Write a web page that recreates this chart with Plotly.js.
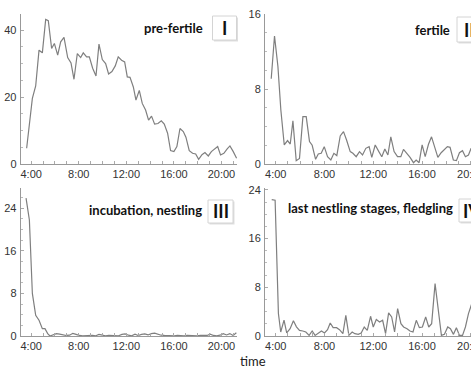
<!DOCTYPE html>
<html>
<head>
<meta charset="utf-8">
<script src="https://cdn.plot.ly/plotly-3.0.1.min.js"></script>
<style>
html,body{margin:0;padding:0;background:#fff;overflow:hidden;width:471px;height:369px;}
#chart{width:490px;height:369px;}
</style>
</head>
<body>
<div id="chart"></div>
<script>
// ---- data (time in hours) ----
const tickHours = [4, 8, 12, 16, 20];

const timesI = [3.62,4.10,4.38,4.66,4.94,5.22,5.44,5.72,5.95,6.23,6.48,6.76,7.07,7.35,7.60,7.88,8.16,8.38,8.66,8.89,9.17,9.45,9.70,9.98,10.26,10.51,10.79,11.07,11.32,11.60,11.86,12.08,12.31,12.59,12.81,13.09,13.34,13.62,13.87,14.12,14.38,14.66,14.94,15.19,15.47,15.72,16.00,16.25,16.51,16.79,17.01,17.29,17.57,17.83,18.08,18.36,18.61,18.89,19.15,19.43,19.68,19.92,20.20,20.48,20.71,20.99,21.27];
const valuesI = [4.7,19.6,23.3,34.0,33.2,43.2,42.8,34.5,36.0,32.5,36.5,37.8,31.8,30.2,25.3,33.0,31.8,33.2,32.0,32.0,28.6,26.3,35.8,31.2,30.0,26.9,27.6,29.3,32.0,31.0,30.5,26.0,25.9,23.0,19.1,22.0,18.1,16.1,13.1,14.3,11.9,12.1,12.9,11.9,9.2,4.0,3.7,5.2,10.6,9.7,8.0,4.0,3.2,3.0,1.4,2.8,3.4,2.4,3.7,4.5,5.2,2.7,3.2,4.5,5.4,3.7,1.7];

const timesII = [3.63,3.90,4.18,4.42,4.70,4.97,5.19,5.41,5.68,5.95,6.23,6.50,6.77,6.99,7.27,7.49,7.73,7.98,8.25,8.52,8.77,9.01,9.29,9.56,9.81,10.11,10.33,10.60,10.87,11.12,11.39,11.66,11.88,12.16,12.46,12.70,12.95,13.20,13.44,13.71,13.99,14.26,14.48,14.75,15.02,15.30,15.52,15.76,16.01,16.26,16.53,16.78,17.05,17.30,17.57,17.83,18.08,18.30,18.57,18.82,19.07,19.32,19.56,19.81,20.03,20.30];
const valuesII = [9.1,13.65,10.4,5.76,2.03,2.5,2.13,4.6,0.36,0.6,5.05,5.05,2.4,2.0,0.5,1.07,1.14,1.85,0.78,0.43,1.14,0.9,3.0,3.45,2.56,1.32,1.14,0.78,1.32,0.96,1.67,1.85,0.71,2.03,1.32,0.78,1.6,0.96,2.9,1.32,0.78,0.78,1.56,1.14,0.71,0.14,0.43,0.14,2.03,0.78,2.1,2.9,1.67,0.71,1.2,1.56,1.85,1.78,0.43,0.36,1.2,1.42,0.78,0.96,1.67,1.1];

const timesIII = [3.57,3.85,4.10,4.38,4.66,4.94,5.16,5.39,5.58,5.85,6.12,6.40,6.68,6.95,7.23,7.50,7.78,8.05,8.33,8.60,8.88,9.15,9.43,9.70,9.98,10.25,10.53,10.80,11.08,11.35,11.63,11.90,12.18,12.45,12.73,13.00,13.28,13.55,13.83,14.10,14.38,14.65,14.93,15.20,15.48,15.75,16.03,16.30,16.58,16.85,17.13,17.40,17.68,17.95,18.23,18.50,18.78,19.05,19.33,19.60,19.88,20.15,20.43,20.70,20.98,21.25];
const valuesIII = [25.9,21.8,8.0,3.9,2.95,1.38,1.38,0.44,0.0,0.2,0.45,0.35,0.25,0.1,0.15,0.5,0.3,0.1,0.05,0.1,0.05,0.1,0.05,0.3,0.15,0.05,0.1,0.05,0.1,0.05,0.3,0.4,0.15,0.05,0.35,0.1,0.3,0.4,0.2,0.45,0.55,0.3,0.15,0.1,0.05,0.1,0.05,0.1,0.05,0.05,0.1,0.05,0.1,0.05,0.1,0.05,0.1,0.35,0.1,0.05,0.15,0.45,0.2,0.45,0.1,0.6];

const timesIV = [3.67,3.95,4.22,4.41,4.68,4.90,5.18,5.45,5.70,5.95,6.22,6.47,6.74,6.99,7.23,7.51,7.75,8.00,8.25,8.47,8.71,8.99,9.23,9.51,9.75,10.00,10.27,10.49,10.77,11.01,11.26,11.51,11.78,12.00,12.25,12.52,12.77,13.01,13.26,13.51,13.75,14.00,14.27,14.49,14.77,15.01,15.26,15.53,15.78,16.03,16.30,16.55,16.79,17.07,17.32,17.59,17.84,18.11,18.33,18.58,18.82,19.07,19.32,19.56,19.81,20.08,20.30];
const valuesIV = [22.4,22.3,3.7,0.66,2.6,0.5,1.2,2.5,1.5,0.93,0.82,0.66,0.1,0.82,0.1,0.5,0.82,0.5,1.04,2.14,1.37,1.37,1.04,0.38,3.4,0.1,0.66,0.38,0.27,0.5,1.48,0.93,3.24,1.48,2.7,2.3,2.58,0.38,3.8,3.13,0.66,4.5,2.03,1.48,1.2,0.82,0.66,2.58,1.37,1.48,3.13,1.48,2.03,8.6,4.8,0.1,0.27,1.48,1.2,0.27,1.37,0.1,0.1,1.48,3.68,5.3,3.0];

const stageLabels = ['pre-fertile', 'fertile', 'incubation, nestling', 'last nestling stages, fledgling'];
const stageNumerals = ['I', 'II', 'III', 'IV'];
const xTitle = 'time';

// ---- layout helpers ----
const W = 490, H = 369;
const fx = p => p / W;
const fy = p => 1 - p / H;

const lineStyle = {color: '#7f7f7f', width: 1.2};
const traces = [
  {x: timesI, y: valuesI, xaxis: 'x', yaxis: 'y'},
  {x: timesII, y: valuesII, xaxis: 'x2', yaxis: 'y2'},
  {x: timesIII, y: valuesIII, xaxis: 'x3', yaxis: 'y3'},
  {x: timesIV, y: valuesIV, xaxis: 'x4', yaxis: 'y4'}
].map(t => Object.assign(t, {type: 'scatter', mode: 'lines', line: lineStyle, hoverinfo: 'skip', cliponaxis: false}));

const tickFont = {family: 'Arial, "Liberation Sans", sans-serif', size: 11, color: '#333'};
function xAx(domain, anchor) {
  return {
    domain: domain, anchor: anchor, range: [3.12, 21.33],
    tickmode: 'array', tickvals: tickHours, ticktext: tickHours.map(h => h + ':00'),
    showline: true, linecolor: '#999', linewidth: 1, showgrid: false, zeroline: false,
    ticks: 'inside', ticklen: 3, tickcolor: '#aaa', tickfont: tickFont,
    minor: {tickmode: 'linear', tick0: 0, dtick: 1, ticks: 'inside', ticklen: 3, tickcolor: '#aaa', showgrid: false}
  };
}
function yAx(domain, anchor, range, dtick, minorD) {
  return {
    domain: domain, anchor: anchor, range: range, tickmode: 'linear', tick0: 0, dtick: dtick,
    showline: true, linecolor: '#999', linewidth: 1, showgrid: false, zeroline: false,
    ticks: 'inside', ticklen: 3, tickcolor: '#aaa', tickfont: tickFont, ticklabelstandoff: 1,
    minor: {tickmode: 'linear', tick0: 0, dtick: minorD, ticks: 'inside', ticklen: 2, tickcolor: '#bbb', showgrid: false}
  };
}

const leftD = [fx(20.7), fx(237.3)], rightD = [fx(265), fx(487)];
const topD = [fy(164), fy(14)], botD = [fy(336), fy(188)];

const labelFont = {family: 'Lato, "Open Sans", sans-serif', size: 13, color: '#111', weight: 'bold'};
const numFont = {family: 'Lato, "Open Sans", sans-serif', size: 18, color: '#111', weight: 'bold'};

// [text right edge px, text center y px, box left px, box top px, box width px, box height px]
const boxes = [
  [205, 28, 212.5, 16, 24, 24],
  [452, 30, 457, 17, 24, 25],
  [204, 210, 208, 200, 25, 23],
  [455, 208, 459, 199, 26, 23]
];

const annotations = [];
const shapes = [];
boxes.forEach((b, i) => {
  const [tr, ty, bl, bt, bw, bh] = b;
  annotations.push({xref: 'paper', yref: 'paper', x: fx(tr), y: fy(ty), xanchor: 'right', yanchor: 'middle',
    text: '<b>' + stageLabels[i] + '</b>', showarrow: false, font: labelFont});
  shapes.push({type: 'rect', xref: 'paper', yref: 'paper', x0: fx(bl + 1.5), x1: fx(bl + bw + 1.5), y0: fy(bt + bh + 1.5), y1: fy(bt + 1.5),
    fillcolor: 'rgba(0,0,0,0.13)', line: {width: 0}, layer: 'above'});
  shapes.push({type: 'rect', xref: 'paper', yref: 'paper', x0: fx(bl), x1: fx(bl + bw), y0: fy(bt + bh), y1: fy(bt),
    fillcolor: '#fff', line: {width: 1, color: '#d4d4d4'}, layer: 'above'});
  annotations.push({xref: 'paper', yref: 'paper', x: fx(bl + bw / 2), y: fy(bt + bh / 2), xanchor: 'center', yanchor: 'middle',
    text: '<b>' + stageNumerals[i] + '</b>', showarrow: false, font: numFont});
});
annotations.push({xref: 'paper', yref: 'paper', x: fx(253), y: fy(361), xanchor: 'center', yanchor: 'middle',
  text: xTitle, showarrow: false, font: {family: 'Lato, "Open Sans", sans-serif', size: 13, color: '#222'}});

const layout = {
  width: W, height: H, margin: {l: 0, r: 0, t: 0, b: 0},
  paper_bgcolor: '#fff', plot_bgcolor: '#fff', showlegend: false,
  xaxis: xAx(leftD, 'y'), yaxis: yAx(topD, 'x', [0, 44.8], 20, 5),
  xaxis2: xAx(rightD, 'y2'), yaxis2: yAx(topD, 'x2', [0, 16], 8, 2),
  xaxis3: xAx(leftD, 'y3'), yaxis3: yAx(botD, 'x3', [0, 27.8], 8, 2),
  xaxis4: xAx(rightD, 'y4'), yaxis4: yAx(botD, 'x4', [0, 24.3], 8, 2),
  annotations: annotations, shapes: shapes
};

Plotly.newPlot('chart', traces, layout, {displayModeBar: false, staticPlot: true});
</script>
</body>
</html>
